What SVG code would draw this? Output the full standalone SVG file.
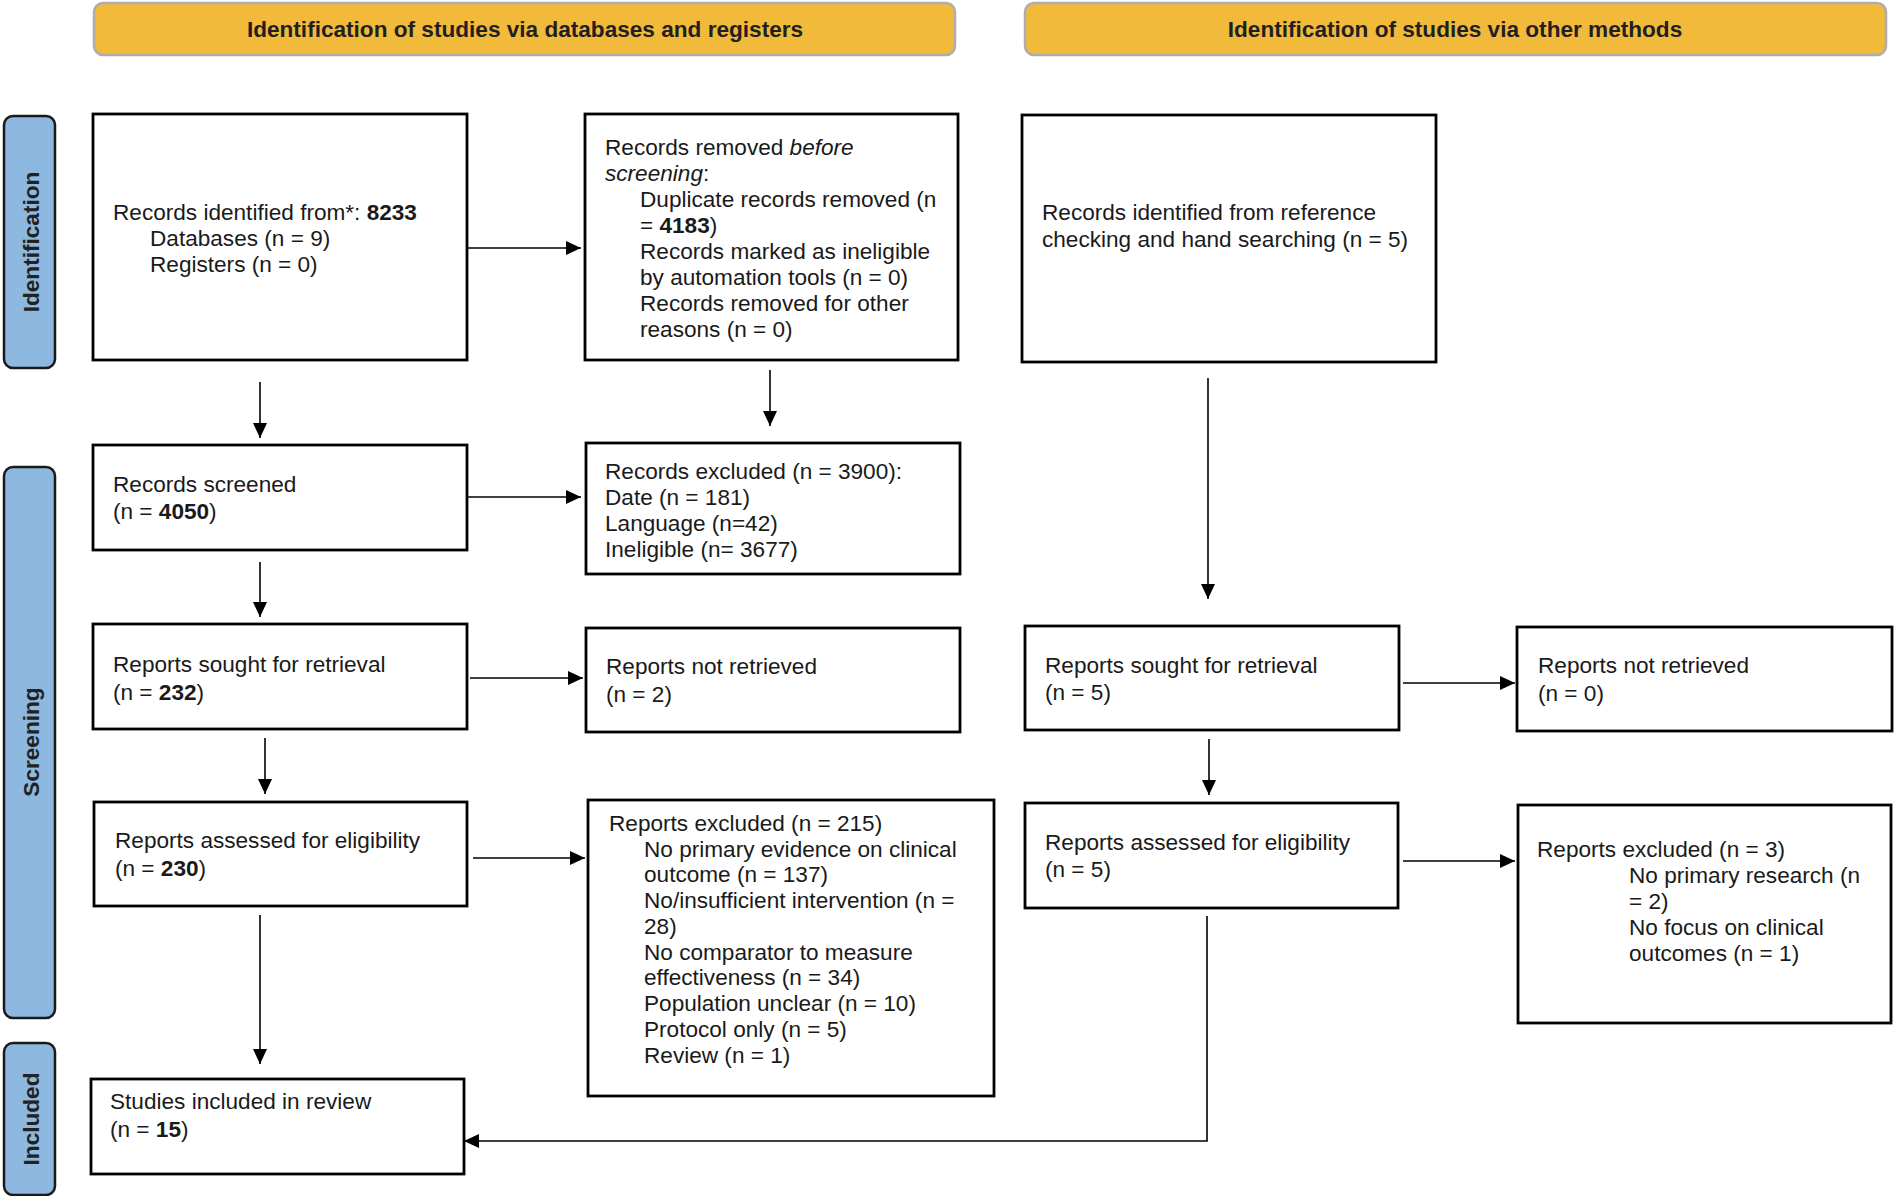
<svg xmlns="http://www.w3.org/2000/svg" width="1896" height="1196" viewBox="0 0 1896 1196">
<defs>
<style>
.hdr{fill:#F2BA3A;stroke:#ADADAD;stroke-width:2.5}
.hdrt{font-family:"Liberation Sans",Arial,sans-serif;font-size:22.6px;font-weight:bold;fill:#231F20;text-anchor:middle}
.side{fill:#8DB8DF;stroke:#1A1A1A;stroke-width:2.5}
.sidet{font-family:"Liberation Sans",Arial,sans-serif;font-size:22.6px;font-weight:bold;fill:#222;text-anchor:middle;dominant-baseline:central}
.box{fill:#FFFFFF;stroke:#000000;stroke-width:2.8}
.t{font-family:"Liberation Sans",Arial,sans-serif;font-size:22.6px;fill:#1A1A1A}
.b{font-weight:bold}
.i{font-style:italic}
.c{fill:none;stroke:#000000;stroke-width:1.6}
</style>
<marker id="ah" markerUnits="userSpaceOnUse" markerWidth="16" markerHeight="15" refX="15" refY="7" orient="auto" viewBox="0 0 16 15">
<path d="M0,0 L15,7 L0,14 Z" fill="#000000"/>
</marker>
</defs>
<rect width="1896" height="1196" fill="#FFFFFF"/>

<g id="header-databases">
<rect class="hdr" x="94" y="3" width="861" height="52" rx="9"/>
<text class="hdrt" x="525" y="37">Identification of studies via databases and registers</text>
</g>
<g id="header-other">
<rect class="hdr" x="1025" y="3" width="861" height="52" rx="9"/>
<text class="hdrt" x="1455" y="37">Identification of studies via other methods</text>
</g>

<g id="phase-identification">
<rect class="side" x="4" y="116" width="51" height="252" rx="9"/>
<text class="sidet" transform="translate(31,242) rotate(-90)">Identification</text>
</g>
<g id="phase-screening">
<rect class="side" x="4" y="467" width="51" height="551" rx="9"/>
<text class="sidet" transform="translate(31,742) rotate(-90)">Screening</text>
</g>
<g id="phase-included">
<rect class="side" x="4" y="1043" width="51" height="152" rx="9"/>
<text class="sidet" transform="translate(31,1119) rotate(-90)">Included</text>
</g>

<g id="records-identified">
<rect class="box" x="93" y="114" width="374" height="246"/>
<text class="t" x="113" y="220">Records identified from*: <tspan class="b">8233</tspan></text>
<text class="t" x="150" y="246">Databases (n = 9)</text>
<text class="t" x="150" y="272">Registers (n = 0)</text>
</g>

<g id="records-removed">
<rect class="box" x="585" y="114" width="373" height="246"/>
<text class="t" x="605" y="155">Records removed <tspan class="i">before</tspan></text>
<text class="t" x="605" y="181"><tspan class="i">screening</tspan>:</text>
<text class="t" x="640" y="207">Duplicate records removed (n</text>
<text class="t" x="640" y="233">= <tspan class="b">4183</tspan>)</text>
<text class="t" x="640" y="259">Records marked as ineligible</text>
<text class="t" x="640" y="285">by automation tools (n = 0)</text>
<text class="t" x="640" y="311">Records removed for other</text>
<text class="t" x="640" y="337">reasons (n = 0)</text>
</g>

<g id="records-other">
<rect class="box" x="1022" y="115" width="414" height="247"/>
<text class="t" x="1042" y="220">Records identified from reference</text>
<text class="t" x="1042" y="247">checking and hand searching (n = 5)</text>
</g>

<g id="records-screened">
<rect class="box" x="93" y="445" width="374" height="105"/>
<text class="t" x="113" y="492">Records screened</text>
<text class="t" x="113" y="519">(n = <tspan class="b">4050</tspan>)</text>
</g>

<g id="records-excluded">
<rect class="box" x="586" y="443" width="374" height="131"/>
<text class="t" x="605" y="479">Records excluded (n = 3900):</text>
<text class="t" x="605" y="505">Date (n = 181)</text>
<text class="t" x="605" y="531">Language (n=42)</text>
<text class="t" x="605" y="557">Ineligible (n= 3677)</text>
</g>

<g id="reports-sought-db">
<rect class="box" x="93" y="624" width="374" height="105"/>
<text class="t" x="113" y="672">Reports sought for retrieval</text>
<text class="t" x="113" y="700">(n = <tspan class="b">232</tspan>)</text>
</g>

<g id="reports-not-retrieved-db">
<rect class="box" x="586" y="628" width="374" height="104"/>
<text class="t" x="606" y="674">Reports not retrieved</text>
<text class="t" x="606" y="702">(n = 2)</text>
</g>

<g id="reports-sought-other">
<rect class="box" x="1025" y="626" width="374" height="104"/>
<text class="t" x="1045" y="673">Reports sought for retrieval</text>
<text class="t" x="1045" y="700">(n = 5)</text>
</g>

<g id="reports-not-retrieved-other">
<rect class="box" x="1517" y="627" width="375" height="104"/>
<text class="t" x="1538" y="673">Reports not retrieved</text>
<text class="t" x="1538" y="701">(n = 0)</text>
</g>

<g id="reports-assessed-db">
<rect class="box" x="94" y="802" width="373" height="104"/>
<text class="t" x="115" y="848">Reports assessed for eligibility</text>
<text class="t" x="115" y="876">(n = <tspan class="b">230</tspan>)</text>
</g>

<g id="reports-excluded-db">
<rect class="box" x="588" y="800" width="406" height="296"/>
<text class="t" x="609" y="831">Reports excluded (n = 215)</text>
<text class="t" x="644" y="857">No primary evidence on clinical</text>
<text class="t" x="644" y="882">outcome (n = 137)</text>
<text class="t" x="644" y="908">No/insufficient intervention (n =</text>
<text class="t" x="644" y="934">28)</text>
<text class="t" x="644" y="960">No comparator to measure</text>
<text class="t" x="644" y="985">effectiveness (n = 34)</text>
<text class="t" x="644" y="1011">Population unclear (n = 10)</text>
<text class="t" x="644" y="1037">Protocol only (n = 5)</text>
<text class="t" x="644" y="1063">Review (n = 1)</text>
</g>

<g id="reports-assessed-other">
<rect class="box" x="1025" y="803" width="373" height="105"/>
<text class="t" x="1045" y="850">Reports assessed for eligibility</text>
<text class="t" x="1045" y="877">(n = 5)</text>
</g>

<g id="reports-excluded-other">
<rect class="box" x="1518" y="805" width="373" height="218"/>
<text class="t" x="1537" y="857">Reports excluded (n = 3)</text>
<text class="t" x="1629" y="883">No primary research (n</text>
<text class="t" x="1629" y="909">= 2)</text>
<text class="t" x="1629" y="935">No focus on clinical</text>
<text class="t" x="1629" y="961">outcomes (n = 1)</text>
</g>

<g id="studies-included">
<rect class="box" x="91" y="1079" width="373" height="95"/>
<text class="t" x="110" y="1109">Studies included in review</text>
<text class="t" x="110" y="1137">(n = <tspan class="b">15</tspan>)</text>
</g>

<g id="connectors">
<line class="c" x1="468" y1="248" x2="581" y2="248" marker-end="url(#ah)"/>
<line class="c" x1="260" y1="382" x2="260" y2="438" marker-end="url(#ah)"/>
<line class="c" x1="770" y1="370" x2="770" y2="426" marker-end="url(#ah)"/>
<line class="c" x1="467" y1="497" x2="581" y2="497" marker-end="url(#ah)"/>
<line class="c" x1="260" y1="562" x2="260" y2="617" marker-end="url(#ah)"/>
<line class="c" x1="470" y1="678" x2="583" y2="678" marker-end="url(#ah)"/>
<line class="c" x1="265" y1="738" x2="265" y2="794" marker-end="url(#ah)"/>
<line class="c" x1="473" y1="858" x2="585" y2="858" marker-end="url(#ah)"/>
<line class="c" x1="260" y1="915" x2="260" y2="1064" marker-end="url(#ah)"/>
<line class="c" x1="1208" y1="378" x2="1208" y2="599" marker-end="url(#ah)"/>
<line class="c" x1="1403" y1="683" x2="1515" y2="683" marker-end="url(#ah)"/>
<line class="c" x1="1209" y1="739" x2="1209" y2="795" marker-end="url(#ah)"/>
<line class="c" x1="1403" y1="861" x2="1515" y2="861" marker-end="url(#ah)"/>
<polyline class="c" points="1207,916 1207,1141 464,1141" marker-end="url(#ah)"/>
</g>
</svg>
